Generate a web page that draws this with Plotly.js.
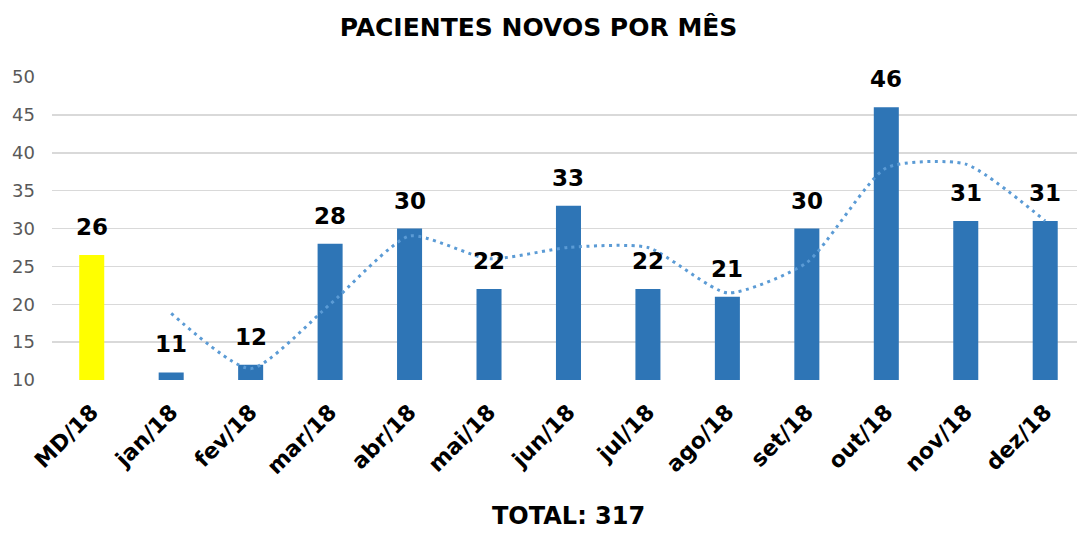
<!DOCTYPE html>
<html><head><meta charset="utf-8">
<script src="https://cdn.plot.ly/plotly-3.0.1.min.js"></script>
<style>html,body{margin:0;padding:0;background:#fff;}#chart{width:1077px;height:533px;}</style>
</head><body><div id="chart"></div>
<script>
const categories = ["MD/18","jan/18","fev/18","mar/18","abr/18","mai/18","jun/18","jul/18","ago/18","set/18","out/18","nov/18","dez/18"];
const values = [26.5, 11, 12, 28, 30, 22, 33, 22, 21, 30, 46, 31, 31];
const labels = ["26","11","12","28","30","22","33","22","21","30","46","31","31"];
const trendCategories = ["jan/18","fev/18","mar/18","abr/18","mai/18","jun/18","jul/18","ago/18","set/18","out/18","nov/18","dez/18"];
const trendValues = [18.8, 11.5, 20, 29, 26, 27.5, 27.5, 21.5, 25.5, 38, 38.5, 31];
const barColors = ["#ffff00","#2e75b6","#2e75b6","#2e75b6","#2e75b6","#2e75b6","#2e75b6","#2e75b6","#2e75b6","#2e75b6","#2e75b6","#2e75b6","#2e75b6"];
const yTicks = [10,15,20,25,30,35,40,45,50];
const totalText = "TOTAL: 317";

const lblFont = "DejaVu Sans, Verdana, sans-serif";
const traces = [
  {type:"bar", x:categories, y:values, base:0,
   marker:{color:barColors}, width:0.315, hoverinfo:"none"},
  {type:"scatter", mode:"lines", x:trendCategories, y:trendValues,
   line:{color:"#5b9bd5", width:3, dash:"3px,4.5px", shape:"spline", smoothing:0.6}, hoverinfo:"none"}
];
const barAnnotations = categories.map((c, i) => ({
  x:c, y:values[i], xref:"x", yref:"y", text:"<b>"+labels[i]+"</b>", showarrow:false,
  xanchor:"center", yanchor:"bottom", yshift:13,
  font:{family:lblFont, size:23, color:"#000"}
}));
const layout = {
  width:1077, height:533, showlegend:false,
  margin:{l:52, r:0, t:77, b:153},
  paper_bgcolor:"#fff", plot_bgcolor:"#fff",
  title:{text:"<b>PACIENTES NOVOS POR MÊS</b>", x:0.5, xanchor:"center", y:0.948, yanchor:"middle",
         font:{family:lblFont, size:25, color:"#000"}},
  xaxis:{type:"category", range:[-0.5,12.4], tickangle:-45, showgrid:false, zeroline:false,
         showline:false, ticks:"", ticklabelstandoff:14,
         tickfont:{family:lblFont, size:22, color:"#000", weight:"bold"}},
  yaxis:{range:[10,50], tickvals:yTicks, showgrid:true, gridcolor:"#d9d9d9", gridwidth:1.5,
         zeroline:false, showline:false, ticks:"", ticklabelstandoff:16,
         tickfont:{family:lblFont, size:18, color:"#595959"}},
  annotations:barAnnotations.concat([{text:"<b>"+totalText+"</b>", xref:"paper", yref:"paper", x:(568-52)/1025, y:-(516-380)/303,
    xanchor:"center", yanchor:"middle", showarrow:false, font:{family:lblFont, size:24, color:"#000"}}])
};
Plotly.newPlot("chart", traces, layout, {displayModeBar:false, staticPlot:true});
</script></body></html>
